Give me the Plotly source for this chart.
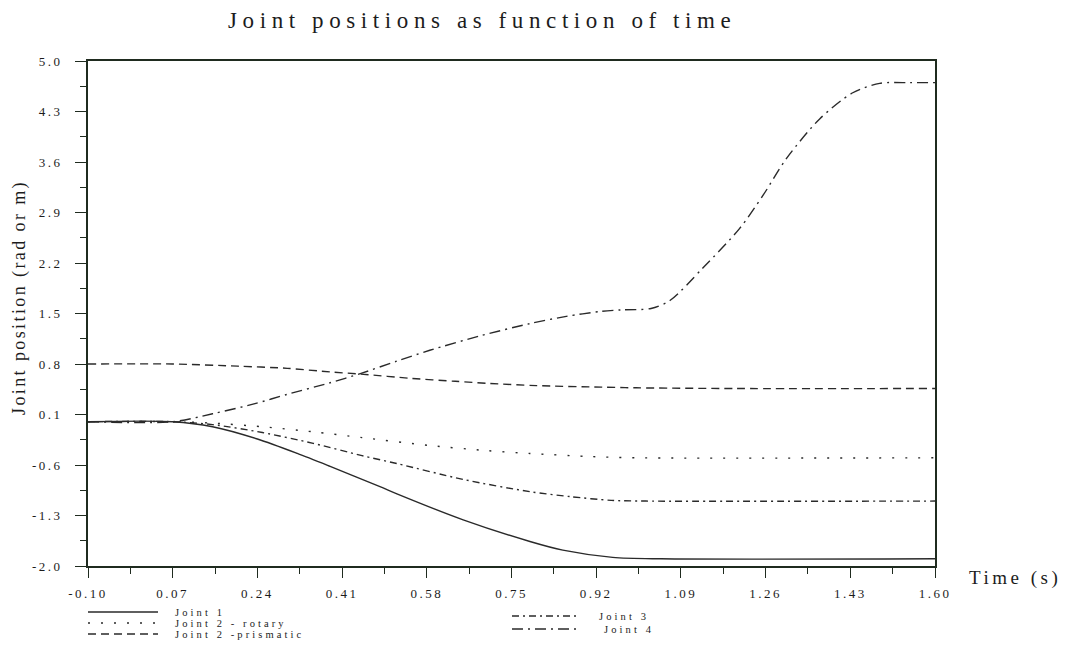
import plotly.graph_objects as go

# ---- data: joint positions (rad or m) against time (s) ----
t_joint1 = [-0.10, 0.07, 0.15, 0.24, 0.32, 0.386, 0.486, 0.52, 0.653, 0.787, 0.853, 0.953, 1.05, 1.60]
joint1 = [0.0, 0.0, -0.07, -0.24, -0.44, -0.62, -0.90, -1.00, -1.36, -1.66, -1.78, -1.88, -1.90, -1.90]

t_joint2_rot = [-0.10, 0.07, 0.151, 0.25, 0.352, 0.45, 0.586, 0.70, 0.787, 0.90, 1.00, 1.60]
joint2_rot = [0.0, 0.0, -0.02, -0.07, -0.14, -0.22, -0.33, -0.40, -0.44, -0.48, -0.50, -0.50]

t_joint2_pri = [-0.10, 0.07, 0.20, 0.30, 0.386, 0.448, 0.55, 0.637, 0.707, 0.80, 0.93, 1.00, 1.20, 1.60]
joint2_pri = [0.80, 0.80, 0.77, 0.74, 0.69, 0.66, 0.60, 0.56, 0.53, 0.50, 0.48, 0.47, 0.46, 0.46]

t_joint3 = [-0.10, 0.07, 0.15, 0.25, 0.352, 0.45, 0.52, 0.653, 0.787, 0.87, 0.95, 1.02, 1.60]
joint3 = [0.0, 0.0, -0.04, -0.15, -0.30, -0.47, -0.58, -0.80, -0.97, -1.04, -1.09, -1.10, -1.10]

t_joint4 = [-0.10, 0.07, 0.15, 0.235, 0.30, 0.386, 0.448, 0.52, 0.586, 0.687, 0.787, 0.86, 0.93,
            0.97, 1.03, 1.068, 1.134, 1.208, 1.255, 1.302, 1.369, 1.435, 1.489, 1.55, 1.60]
joint4 = [0.0, 0.0, 0.11, 0.25, 0.38, 0.54, 0.67, 0.84, 0.99, 1.19, 1.36, 1.46, 1.53,
          1.55, 1.57, 1.68, 2.13, 2.68, 3.14, 3.65, 4.20, 4.56, 4.69, 4.70, 4.70]

series_names = ["Joint 1", "Joint 2 - rotary", "Joint 2 -prismatic", "Joint 3", "Joint 4"]

x_ticks = [-0.10, 0.07, 0.24, 0.41, 0.58, 0.75, 0.92, 1.09, 1.26, 1.43, 1.60]
x_tick_labels = ["-0.10", "0.07", "0.24", "0.41", "0.58", "0.75", "0.92", "1.09", "1.26", "1.43", "1.60"]
y_ticks = [-2.0, -1.3, -0.6, 0.1, 0.8, 1.5, 2.2, 2.9, 3.6, 4.3, 5.0]
y_tick_labels = ["-2.0", "-1.3", "-0.6", "0.1", "0.8", "1.5", "2.2", "2.9", "3.6", "4.3", "5.0"]

title_text = "Joint positions as function of time"
x_title = "Time (s)"
y_title = "Joint position (rad or m)"

# ---- styling ----
W, H = 1067, 650
ML, MR, MT, MB = 88, 132, 61, 84
PW, PH = W - ML - MR, H - MT - MB
FONT = "Liberation Serif"
AXIS = "#1f2b1f"
INK = "#2a2a2a"
TEXT = "#1c1c1c"
LINE_W = 1.4

dash_styles = {
    "Joint 1": "solid",
    "Joint 2 - rotary": "2px,11px",
    "Joint 2 -prismatic": "8px,5px",
    "Joint 3": "7px,4px,2px,4px",
    "Joint 4": "11px,5px,2px,5px",
}


def spaced(text, px):
    return f'<span style="letter-spacing:{px}px">{text}</span>'


def fx(px):
    """horizontal page pixel -> paper fraction"""
    return (px - ML) / PW


def fy(py):
    """vertical page pixel -> paper fraction"""
    return (H - MB - py) / PH


fig = go.Figure()
curves = [
    (t_joint2_rot, joint2_rot, series_names[1]),
    (t_joint2_pri, joint2_pri, series_names[2]),
    (t_joint3, joint3, series_names[3]),
    (t_joint4, joint4, series_names[4]),
    (t_joint1, joint1, series_names[0]),
]
for t, y, name in curves:
    fig.add_trace(go.Scatter(
        x=t, y=y, name=name, mode="lines",
        line=dict(color=INK, width=LINE_W, dash=dash_styles[name], shape="spline", smoothing=0.8),
        hoverinfo="skip",
    ))

fig.update_xaxes(
    range=[-0.10, 1.60], tickmode="array", tickvals=x_ticks,
    ticktext=[spaced(s, 2.5) for s in x_tick_labels],
    ticks="outside", ticklen=10, tickwidth=1.3, tickcolor=AXIS,
    showline=True, linecolor=AXIS, linewidth=1.6, mirror=True,
    showgrid=False, zeroline=False, ticklabelstandoff=5,
    tickfont=dict(family=FONT, size=13, color=TEXT),
    minor=dict(tickmode="linear", tick0=-0.10, dtick=0.085, ticks="outside",
               ticklen=6, tickwidth=1.2, tickcolor=AXIS, showgrid=False),
)
fig.update_yaxes(
    range=[-2.0, 5.0], tickmode="array", tickvals=y_ticks,
    ticktext=[spaced(s, 2.5) for s in y_tick_labels],
    ticks="outside", ticklen=11, tickwidth=1.3, tickcolor=AXIS,
    showline=True, linecolor=AXIS, linewidth=1.6, mirror=True,
    showgrid=False, zeroline=False, ticklabelstandoff=10,
    tickfont=dict(family=FONT, size=13, color=TEXT),
    minor=dict(tickmode="linear", tick0=-2.0, dtick=0.35, ticks="outside",
               ticklen=6, tickwidth=1.2, tickcolor=AXIS, showgrid=False),
)

annotations = [
    dict(text=spaced(title_text, 5.6), x=fx(482), y=fy(21), font=dict(size=23)),
    dict(text=spaced(y_title, 2.4), x=fx(19), y=fy(298), textangle=-90, font=dict(size=18)),
    dict(text=spaced(x_title, 3.5), x=fx(1015), y=fy(578), font=dict(size=19)),
]

# legend: two columns of line samples with labels beneath the axis
legend_rows = [
    (series_names[0], 88, 158, 612, 173),
    (series_names[1], 88, 158, 623, 173),
    (series_names[2], 88, 158, 634, 173),
    (series_names[3], 512, 580, 616, 597),
    (series_names[4], 512, 580, 629, 602),
]
shapes = []
for name, x0, x1, py, tx in legend_rows:
    shapes.append(dict(type="line", xref="paper", yref="paper",
                       x0=fx(x0), x1=fx(x1), y0=fy(py), y1=fy(py),
                       line=dict(color=INK, width=LINE_W, dash=dash_styles[name])))
    annotations.append(dict(text=spaced(name, 3.1), x=fx(tx), y=fy(py), xanchor="left",
                            font=dict(size=10.5)))

for a in annotations:
    a.setdefault("xanchor", "center")
    a.update(xref="paper", yref="paper", yanchor="middle", showarrow=False)
    a["font"].update(family=FONT, color=TEXT)

fig.update_layout(
    width=W, height=H,
    margin=dict(l=ML, r=MR, t=MT, b=MB),
    paper_bgcolor="white", plot_bgcolor="white",
    showlegend=False,
    font=dict(family=FONT, color=TEXT),
    annotations=annotations, shapes=shapes,
)

fig.write_html("out.html")
